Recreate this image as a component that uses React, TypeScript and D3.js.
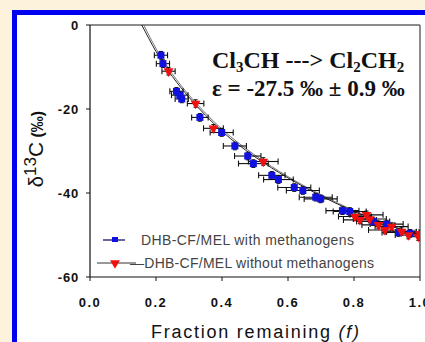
import React from "react";
import * as d3 from "d3";

const blueF = [0.215, 0.221, 0.262, 0.272, 0.278, 0.333, 0.399, 0.439, 0.478, 0.495, 0.551, 0.571, 0.619, 0.645, 0.684, 0.699, 0.765, 0.787, 0.858, 0.899, 0.935, 0.970];
const blueD = [-7.2, -9.2, -15.8, -16.7, -17.6, -22.0, -25.6, -28.8, -31.2, -33.0, -35.8, -36.8, -38.7, -39.4, -41.0, -41.4, -44.2, -44.4, -46.8, -47.4, -49.4, -49.6];
const blueErr = [0.02, 0.02, 0.02, 0.025, 0.02, 0.025, 0.035, 0.035, 0.04, 0.045, 0.04, 0.045, 0.05, 0.05, 0.05, 0.05, 0.05, 0.05, 0.05, 0.05, 0.05, 0.04];

const redF = [0.238, 0.320, 0.374, 0.525, 0.803, 0.818, 0.838, 0.848, 0.874, 0.894, 0.914, 0.944, 0.965, 0.995, 1.0];
const redD = [-11.0, -18.7, -24.6, -32.5, -45.6, -46.4, -45.2, -46.2, -47.6, -48.8, -48.0, -49.2, -50.0, -50.4, -49.7];
const redErr = [0.02, 0.025, 0.03, 0.045, 0.05, 0.05, 0.05, 0.05, 0.05, 0.05, 0.05, 0.045, 0.04, 0.03, 0.03];

const fit1F = [0.157, 0.2, 0.25, 0.3, 0.35, 0.4, 0.5, 0.6, 0.7, 0.8, 0.9, 1.0];
const fit1D = [0, -6.3, -12.3, -17.2, -21.5, -25.3, -31.4, -36.4, -40.7, -44.4, -47.5, -50.3];
const fit2F = [0.163, 0.2, 0.25, 0.3, 0.35, 0.4, 0.5, 0.6, 0.7, 0.8, 0.9, 1.0];
const fit2D = [0, -5.6, -11.7, -16.7, -21.0, -24.8, -31.0, -36.1, -40.4, -44.2, -47.4, -50.3];

const xTicks = [0, 0.2, 0.4, 0.6, 0.8, 1.0];
const yTicks = [0, -20, -40, -60];
const legendLabels = ["DHB-CF/MEL with methanogens", "\u2014DHB-CF/MEL without methanogens"];

const W = 425, H = 342;
const L = 90, R = 420, T = 25, B = 277;

export default function App() {
  const x = d3.scaleLinear().domain([0, 1]).range([L, R]);
  const y = d3.scaleLinear().domain([0, -60]).range([T, B]);
  const line = d3.line<[number, number]>().x(d => x(d[0])).y(d => y(d[1])).curve(d3.curveMonotoneX);
  const fit1 = line(fit1F.map((f, i) => [f, fit1D[i]] as [number, number])) || "";
  const fit2 = line(fit2F.map((f, i) => [f, fit2D[i]] as [number, number])) || "";
  const yErr = 0.9;
  const tri = d3.symbol().type(d3.symbolTriangle).size(42)() || "";

  const errBars = (F: number[], D: number[], E: number[], key: string) =>
    F.map((f, i) => {
      const cx = x(f), cy = y(D[i]);
      const x0 = x(f - E[i]), x1 = x(Math.min(f + E[i], 1.03));
      const y0 = y(D[i] + yErr), y1 = y(D[i] - yErr);
      return (
        <g key={key + i} stroke="#111" strokeWidth={1.1}>
          <line x1={x0} x2={x1} y1={cy} y2={cy} />
          <line x1={x0} x2={x0} y1={cy - 3} y2={cy + 3} />
          <line x1={x1} x2={x1} y1={cy - 3} y2={cy + 3} />
          <line x1={cx} x2={cx} y1={y0} y2={y1} />
          <line x1={cx - 2} x2={cx + 2} y1={y0} y2={y0} />
          <line x1={cx - 2} x2={cx + 2} y1={y1} y2={y1} />
        </g>
      );
    });

  return (
    <svg width={W} height={H} style={{ position: "absolute", left: 0, top: 0 }} fontFamily="Arial, 'Liberation Sans', sans-serif">
      <defs>
        <clipPath id="plotclip"><rect x={L} y={T} width={R - L} height={B - T} /></clipPath>
      </defs>
      <rect x={0} y={0} width={W} height={H} fill="#FDF3DC" />
      <rect x={14.5} y={12.5} width={W + 20} height={H + 20} fill="#fff" stroke="#0000F0" strokeWidth={5} />

      {/* frame */}
      <line x1={L} x2={R} y1={T} y2={T} stroke="#666" strokeWidth={1.5} />
      <line x1={R} x2={R} y1={T} y2={B} stroke="#666" strokeWidth={1.5} />
      <line x1={L} x2={L} y1={T} y2={B} stroke="#111" strokeWidth={1.2} />
      <line x1={L} x2={R} y1={B} y2={B} stroke="#111" strokeWidth={1.2} />

      {yTicks.map(t => (
        <g key={"y" + t}>
          <line x1={L - 4} x2={L} y1={y(t)} y2={y(t)} stroke="#111" />
          <text x={79} y={y(t) + 5} textAnchor="end" fontSize={13} fontWeight="bold" letterSpacing={0.8} fill="#111">{t}</text>
        </g>
      ))}
      {xTicks.map(t => (
        <g key={"x" + t}>
          <line x1={x(t)} x2={x(t)} y1={B} y2={B + 4} stroke="#111" />
          <text x={x(t)} y={307} textAnchor="middle" fontSize={13} fontWeight="bold" letterSpacing={1.5} fill="#111">{t.toFixed(1)}</text>
        </g>
      ))}

      <text x={255} y={338} textAnchor="middle" fontSize={18} fill="#111" textLength={208} lengthAdjust="spacing">
        Fraction remaining <tspan fontStyle="italic">(f)</tspan>
      </text>

      <text transform="translate(43,149) rotate(-90)" textAnchor="middle" fill="#111">
        <tspan fontSize={20}>δ</tspan>
        <tspan fontSize={17} dy={-7}>13</tspan>
        <tspan fontSize={21} dy={7}>C</tspan>
        <tspan fontSize={16} fontWeight="bold"> (‰)</tspan>
      </text>

      <g clipPath="url(#plotclip)">
        <path d={fit2} fill="none" stroke="#777" strokeWidth={1} />
        <path d={fit1} fill="none" stroke="#222" strokeWidth={1} />
        {errBars(blueF, blueD, blueErr, "be")}
        {errBars(redF, redD, redErr, "re")}
        {blueF.map((f, i) => (
          <rect key={"b" + i} x={x(f) - 3.5} y={y(blueD[i]) - 3.5} width={7} height={7} fill="#1010E0" />
        ))}
        {redF.map((f, i) => (
          <path key={"r" + i} d={tri} transform={`translate(${x(f)},${y(redD[i])}) rotate(180)`} fill="#F01010" />
        ))}
      </g>

      {/* annotation */}
      <g fontFamily="'Liberation Serif', 'Times New Roman', serif" fontWeight="bold" fill="#111">
        <text x={212} y={68} fontSize={24}>
          Cl<tspan fontSize={15} dy={4}>3</tspan><tspan dy={-4}>CH ---&gt; Cl</tspan><tspan fontSize={15} dy={4}>2</tspan><tspan dy={-4}>CH</tspan><tspan fontSize={15} dy={4}>2</tspan>
        </text>
        <text x={212} y={96} fontSize={23}>ε = -27.5 ‰ ± 0.9 ‰</text>
      </g>

      {/* legend */}
      <g>
        <line x1={103} x2={125} y1={240} y2={240} stroke="#000060" strokeWidth={1.2} />
        <rect x={112} y={237} width={6} height={5} fill="#1010E0" />
        <text x={141} y={245} fontSize={14} fill="#444" textLength={213} lengthAdjust="spacing">{legendLabels[0]}</text>
        <line x1={97} x2={136} y1={263} y2={263} stroke="#333" strokeWidth={1} />
        <path d={tri} transform="translate(115,263) rotate(180)" fill="#F01010" />
        <text x={130} y={268} fontSize={14} fill="#444" textLength={244} lengthAdjust="spacing">{legendLabels[1]}</text>
      </g>
    </svg>
  );
}
